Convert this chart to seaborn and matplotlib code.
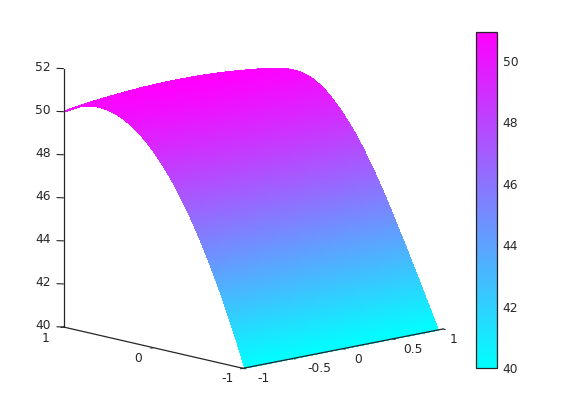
import numpy as np
import matplotlib
matplotlib.use('Agg')
import matplotlib.pyplot as plt
import seaborn as sns
from matplotlib.cm import ScalarMappable
from matplotlib.colors import Normalize
from mpl_toolkits.mplot3d import proj3d

# values
x_vals = [-0.98, 0.0, 0.95]
y_vals = [1.0, 0.95, 0.9, 0.85, 0.8, 0.75, 0.7, 0.65, 0.6, 0.55, 0.5, 0.45, 0.4, 0.35, 0.3, 0.25, 0.2,
          0.15, 0.1, 0.05, 0.0, -0.05, -0.1, -0.15, -0.2, -0.25, -0.3, -0.35, -0.4, -0.45, -0.5, -0.55,
          -0.6, -0.65, -0.7, -0.75, -0.8, -0.85, -0.9, -0.95, -1.0]
z_left = [50.0, 50.14, 50.26, 50.36, 50.44, 50.5, 50.54, 50.56, 50.56, 50.54, 50.5, 50.44, 50.36, 50.26,
          50.14, 50.0, 49.84, 49.66, 49.46, 49.24, 49.0, 48.74, 48.46, 48.16, 47.84, 47.5, 47.14, 46.76,
          46.36, 45.94, 45.5, 45.04, 44.56, 44.06, 43.54, 43.0, 42.44, 41.86, 41.26, 40.64, 40.0]
z_mid = [50.35, 50.48, 50.6, 50.7, 50.78, 50.85, 50.9, 50.93, 50.94, 50.92, 50.86, 50.76, 50.64, 50.5,
         50.34, 50.16, 49.96, 49.76, 49.54, 49.3, 49.04, 48.72, 48.4, 48.06, 47.7, 47.32, 46.92, 46.5,
         46.06, 45.6, 45.14, 44.66, 44.18, 43.68, 43.16, 42.64, 42.12, 41.6, 41.06, 40.52, 40.0]
z_right = [50.15, 50.24, 50.31, 50.37, 50.42, 50.46, 50.49, 50.51, 50.51, 50.5, 50.47, 50.41, 50.32, 50.2,
           50.06, 49.89, 49.7, 49.47, 49.23, 48.97, 48.69, 48.39, 48.07, 47.72, 47.35, 46.97, 46.57, 46.15,
           45.72, 45.27, 44.81, 44.35, 43.88, 43.41, 42.93, 42.45, 41.96, 41.47, 40.98, 40.49, 40.0]
x_ticks = [-1, -0.5, 0, 0.5, 1]
x_labels = ['-1', '-0.5', '0', '0.5', '1']
y_ticks = [-1, 0, 1]
y_labels = ['-1', '0', '1']
z_ticks = [40, 42, 44, 46, 48, 50, 52]
cbar_ticks = [40, 42, 44, 46, 48, 50]

sns.set_style('white')
plt.rcParams['font.family'] = ['DejaVu Sans']
plt.rcParams['font.size'] = 8.8
dark = '#262626'
W, H = 570, 413

cmap = sns.color_palette('cool', as_cmap=True)
norm = Normalize(min(z_left), max(z_mid))

f = plt.figure(figsize=(W / 100, H / 100), dpi=100, facecolor='white')
ax = f.add_axes([80 / W, 0, 400 / W, 400 / H], projection='3d', computed_zorder=False)
ax.set_proj_type('ortho')
ax.view_init(elev=12.28, azim=-132.75)
ax.set_box_aspect((1.03, 1, 1))
ax.set_xlim(-1, 1, view_margin=0)
ax.set_ylim(-1, 1, view_margin=0)
ax.set_zlim(40, 52, view_margin=0)
ax.set_axis_off()
ax.patch.set_alpha(0)


def to_px(x, y, z):
    xs, ys, _ = proj3d.proj_transform(x, y, z, ax.get_proj())
    return np.array(ax.transData.transform((xs, ys)))


# scale and move the axes so the front corners land where they are in the picture
ax.apply_aspect()
a = to_px(-1, -1, 40)
b = to_px(1, -1, 40)
scale = 200 / (b[0] - a[0])
centre = np.array([80 + 200, 200])
new_centre = np.array([243, H - 368.3]) - (a - centre) * scale
side = 400 * scale
ax.set_position([(new_centre[0] - side / 2) / W, (new_centre[1] - side / 2) / H, side / W, side / H])
ax.apply_aspect()

# finer facets between the read values, this is only the interpolated shading of the surface
y_fine = np.linspace(y_vals[0], y_vals[-1], 241)
x_fine = np.linspace(x_vals[0], x_vals[-1], 25)
columns = [np.interp(-y_fine, -np.array(y_vals), c) for c in (z_left, z_mid, z_right)]
weights = [np.prod([(x_fine - x_vals[j]) / (x_vals[i] - x_vals[j]) for j in range(3) if j != i], axis=0)
           for i in range(3)]
Z = sum(np.outer(c, w) for c, w in zip(columns, weights))
X, Y = np.meshgrid(x_fine, y_fine)
Z_cell = (Z[:-1, :-1] + Z[1:, :-1] + Z[:-1, 1:] + Z[1:, 1:]) / 4
cols = cmap(norm(Z_cell))
surf = ax.plot_surface(X, Y, Z, facecolors=cols, shade=False, rstride=1, cstride=1,
                       linewidth=0.5, antialiased=False, zorder=1)
surf.set_edgecolor(cols.reshape(-1, 4))

# axis lines
ax.plot([-1, -1], [1, 1], [40, 52], color=dark, lw=0.9, zorder=2)
ax.plot([-1, -1], [1, -1], [40, 40], color=dark, lw=0.9, zorder=2)
ax.plot([-1, 1], [-1, -1], [40, 40], color=dark, lw=0.9, zorder=2)

for z in z_ticks:
    ax.plot([-1.03, -1], [1.04, 1], [z, z], color=dark, lw=0.8, zorder=2)
    p = to_px(-1, 1, z)
    ax.annotate(str(z), xy=ax.transData.inverted().transform(p), xytext=(-13, 1.5), textcoords='offset pixels',
                ha='right', va='center', color=dark, annotation_clip=False)

x_off = [(20, -10.7), (26, -10.5), (15, -10.4), (20, -11), (11, -11)]
for v, lab, off in zip(x_ticks, x_labels, x_off):
    ax.plot([v, v], [-1, -1.025], [40, 40], color=dark, lw=0.8, zorder=2)
    p = to_px(v, -1, 40)
    ax.annotate(lab, xy=ax.transData.inverted().transform(p), xytext=off, textcoords='offset pixels',
                ha='center', va='center', color=dark, annotation_clip=False)

y_off = [(-16, -10), (-15, -10.5), (-17.5, -11.5)]
for v, lab, off in zip(y_ticks, y_labels, y_off):
    ax.plot([-1, -1.025], [v, v], [40, 40], color=dark, lw=0.8, zorder=2)
    p = to_px(-1, v, 40)
    ax.annotate(lab, xy=ax.transData.inverted().transform(p), xytext=off, textcoords='offset pixels',
                ha='center', va='center', color=dark, annotation_clip=False)

cax = f.add_axes([475.5 / W, (H - 368.3) / H, 21.7 / W, 336.6 / H])
cb = f.colorbar(ScalarMappable(norm=norm, cmap=cmap), cax=cax)
cb.set_ticks(cbar_ticks)
cb.ax.tick_params(direction='in', length=3, width=0.7, color=dark, labelcolor=dark, pad=4, right=True, left=False)
cb.outline.set_edgecolor(dark)
cb.outline.set_linewidth(0.9)

f.savefig('out.png', dpi=100, facecolor='white')
